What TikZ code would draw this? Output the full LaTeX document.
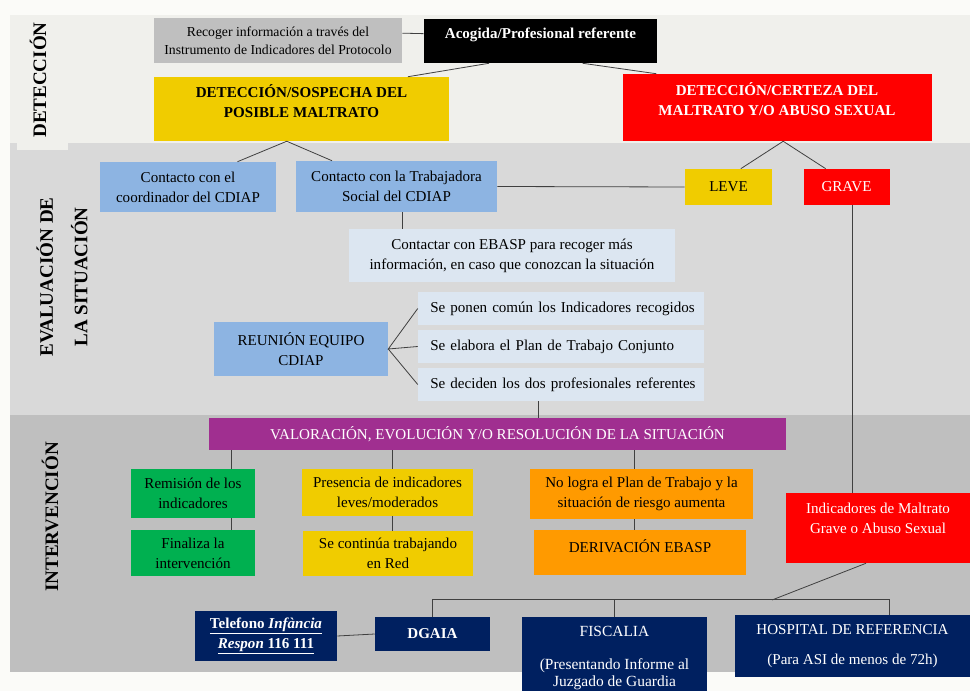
\documentclass[tikz,border=0pt]{standalone}
\usepackage{fontspec}
\setmainfont{Liberation Serif}
\usetikzlibrary{calc}

\definecolor{fondo}{HTML}{FBFBF8}
\definecolor{bandaDet}{HTML}{F0F0EC}
\definecolor{bandaEva}{HTML}{D9D9D9}
\definecolor{bandaInt}{HTML}{BFBFBF}
\definecolor{cajaGris}{HTML}{BFBFBF}
\definecolor{amarilloC}{HTML}{F0CC00}
\definecolor{azulC}{HTML}{8DB4E2}
\definecolor{azulClaro}{HTML}{DCE6F1}
\definecolor{moradoC}{HTML}{A02F90}
\definecolor{verdeC}{HTML}{00B050}
\definecolor{naranjaC}{HTML}{FF9A00}
\definecolor{marinoC}{HTML}{002060}
\definecolor{lineaC}{HTML}{404040}

\begin{document}
\begin{tikzpicture}[x=0.75pt,y=-0.75pt]
\tikzstyle{caja} = [inner sep=0pt, align=center, font=\fontsize{11.3}{15}\selectfont]
\tikzstyle{gris} = [caja, fill=cajaGris]
\tikzstyle{negro} = [caja, fill=black, text=white]
\tikzstyle{amarillo} = [caja, fill=amarilloC]
\tikzstyle{rojo} = [caja, fill=red, text=white]
\tikzstyle{azul} = [caja, fill=azulC]
\tikzstyle{azulclaro} = [caja, fill=azulClaro]
\tikzstyle{lista} = [azulclaro, align=left, inner xsep=4.75pt, text width=205pt]
\tikzstyle{morado} = [caja, fill=moradoC, text=white]
\tikzstyle{verde} = [caja, fill=verdeC]
\tikzstyle{naranja} = [caja, fill=naranjaC]
\tikzstyle{marino} = [caja, fill=marinoC, text=white]
\tikzstyle{etiqueta} = [inner sep=0pt, align=center, rotate=90, font=\fontsize{14.3}{17}\selectfont\bfseries]
\tikzstyle{linea} = [draw=lineaC, line width=0.6pt]
\tikzset{sz/.style 2 args={minimum width=#1*0.75pt, minimum height=#2*0.75pt}}

\useasboundingbox (0,0) rectangle (970,691);
\fill[fondo] (0,0) rectangle (970,691);

% bandas
\fill[bandaDet] (10,15) rectangle (970,143);
\fill[bandaEva] (10,143) rectangle (970,415);
\fill[bandaInt] (10,415) rectangle (970,672);
\fill[bandaDet] (17,15) rectangle (68,150);

\node[etiqueta] (labDet) at (38,80) {DETECCIÓN};
\node[etiqueta] (labEva) at (62,277) {EVALUACIÓN DE\\[9pt]LA SITUACIÓN};
\node[etiqueta] (labInt) at (50,517) {INTERVENCIÓN};

% deteccion
\node[gris, sz={248}{45}, font=\fontsize{10.3}{13.5}\selectfont] (recoger) at (278,40.5)
  {Recoger información a través del\\Instrumento de Indicadores del Protocolo};
\node[negro, sz={233}{44}] (acogida) at (540.5,41)
  {\textbf{Acogida/Profesional referente}\\[-4pt]\mbox{}};
\node[amarillo, sz={295}{64}] (sospecha) at (301.5,109)
  {\textbf{DETECCIÓN/SOSPECHA DEL}\\\textbf{POSIBLE MALTRATO}\\[-3pt]\mbox{}};
\node[rojo, sz={309}{67}] (certeza) at (777,107.5)
  {\textbf{DETECCIÓN/CERTEZA DEL}\\\textbf{MALTRATO Y/O ABUSO SEXUAL}\\[-2pt]\mbox{}};

\draw[linea] ([yshift=5.5pt]recoger.east) -- ([yshift=5.5pt]acogida.west);
\draw[linea] ($(acogida.south west)!0.28!(acogida.south east)$) -- ($(sospecha.north west)!0.86!(sospecha.north east)$);
\draw[linea] ($(acogida.south west)!0.68!(acogida.south east)$) -- ($(certeza.north west)!0.11!(certeza.north east)$);

% evaluacion
\node[azul, sz={176}{50}] (coordinador) at (188,187) {Contacto con el\\coordinador del CDIAP};
\node[azul, sz={201}{51}] (trabajadora) at (396.5,186.5) {Contacto con la Trabajadora\\Social del CDIAP};
\node[amarillo, sz={87}{36}] (leve) at (728.5,187) {LEVE};
\node[rojo, sz={86}{36}] (grave) at (846.5,187) {GRAVE};
\node[azulclaro, sz={326}{53}] (contactar) at (512,255.5)
  {Contactar con EBASP para recoger más\\información, en caso que conozcan la situación};
\node[azul, sz={174}{54}] (reunion) at (301,349) {REUNIÓN EQUIPO\\CDIAP};
\node[lista, sz={286}{33}] (ponen) at (561,308.5) {\hspace*{4.5pt}Se ponen común los Indicadores recogidos};
\node[lista, sz={286}{33}] (elabora) at (561,346.5) {\hspace*{4.5pt}Se elabora el Plan de Trabajo Conjunto};
\node[lista, sz={286}{33}] (deciden) at (561,384.5) {\hspace*{4.5pt}Se deciden los dos profesionales referentes};

\draw[linea] ($(coordinador.north west)!0.78!(coordinador.north east)$) -- ($(sospecha.south west)!0.45!(sospecha.south east)$)
  -- ($(trabajadora.north west)!0.18!(trabajadora.north east)$);
\draw[linea] ($(leve.north west)!0.64!(leve.north east)$) -- ($(certeza.south west)!0.52!(certeza.south east)$)
  -- ($(grave.north west)!0.26!(grave.north east)$);
\draw[linea] (trabajadora.east) -- (leve.west);
\draw[linea] ($(trabajadora.south west)!0.53!(trabajadora.south east)$) coordinate (t) -- (t |- contactar.north);
\draw[linea] (ponen.west) -- (reunion.east) -- (elabora.west);
\draw[linea] (reunion.east) -- (deciden.west);

% intervencion
\node[morado, sz={577}{32}] (valoracion) at (497.5,434) {VALORACIÓN, EVOLUCIÓN Y/O RESOLUCIÓN DE LA SITUACIÓN};
\node[verde, sz={124}{49}] (remision) at (193,493.5) {Remisión de los\\indicadores};
\node[verde, sz={124}{46}] (finaliza) at (193,553) {Finaliza la\\intervención};
\node[amarillo, sz={171}{47}] (presencia) at (387.5,492.5) {Presencia de indicadores\\leves/moderados};
\node[amarillo, sz={170}{45}] (continua) at (388,553.5) {Se continúa trabajando\\en Red};
\node[naranja, sz={223}{50}] (nologra) at (641.5,494) {No logra el Plan de Trabajo y la\\situación de riesgo aumenta};
\node[naranja, sz={212}{45}] (derivacion) at (640,552.5) {DERIVACIÓN EBASP\\[-5pt]\mbox{}};
\node[rojo, sz={184}{70}] (indicadores) at (878,528) {Indicadores de Maltrato\\Grave o Abuso Sexual\\\mbox{}};

\draw[linea] ($(deciden.south west)!0.42!(deciden.south east)$) coordinate (d) -- (d |- valoracion.north);
\draw[linea] ($(grave.south west)!0.57!(grave.south east)$) coordinate (g) -- (g |- indicadores.north);
\draw[linea] ($(remision.north west)!0.81!(remision.north east)$) coordinate (r) -- (r |- valoracion.south);
\draw[linea] (r |- remision.south) -- (r |- finaliza.north);
\draw[linea] ($(presencia.north west)!0.53!(presencia.north east)$) coordinate (p) -- (p |- valoracion.south);
\draw[linea] (p |- presencia.south) -- (p |- continua.north);
\draw[linea] ($(nologra.north west)!0.47!(nologra.north east)$) coordinate (n) -- (n |- valoracion.south);
\draw[linea] (n |- nologra.south) -- (n |- derivacion.north);

% derivaciones externas
\node[marino, sz={142}{50}] (telefono) at (266,636)
  {\underline{\textbf{Telefono \textit{Infància}}}\\\underline{\textbf{\textit{Respon} 116 111}}};
\node[marino, sz={115}{34}] (dgaia) at (432.5,634) {\textbf{DGAIA}};
\node[marino, sz={185}{82}, font=\fontsize{11.6}{12.8}\selectfont] (fiscalia) at (614.5,658)
  {FISCALIA\\[12pt](Presentando Informe al\\Juzgado de Guardia};
\node[marino, sz={235}{62}] (hospital) at (852.5,646) {HOSPITAL DE REFERENCIA\\[7pt](Para ASI de menos de 72h)};

\coordinate (union) at (772,600);
\draw[linea] (telefono.east) -- (dgaia.west);
\draw[linea] (dgaia.north) -- ++(0,-17) -| ($(hospital.north west)!0.655!(hospital.north east)$);
\draw[linea] (fiscalia.north) -- ++(0,-17);
\draw[linea] ($(indicadores.south west)!0.435!(indicadores.south east)$) -- (union);
\end{tikzpicture}
\end{document}
